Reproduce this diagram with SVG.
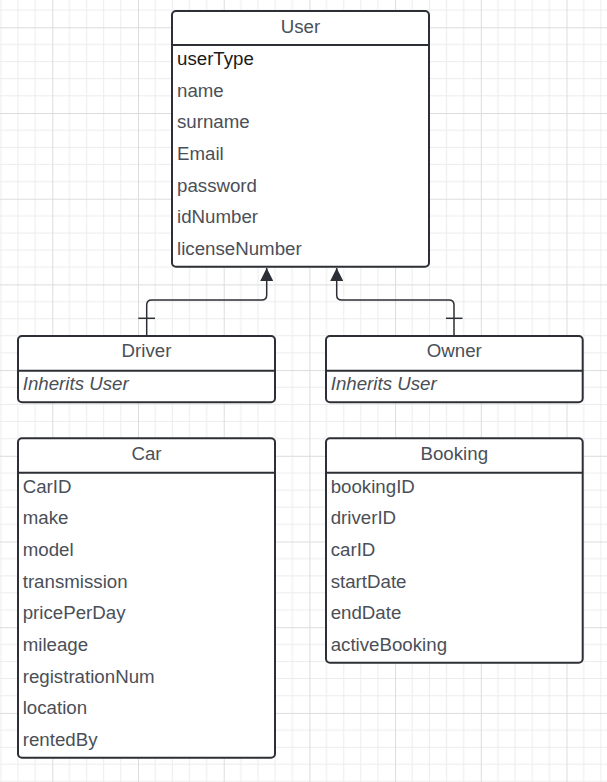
<svg xmlns="http://www.w3.org/2000/svg" width="607" height="782" viewBox="0 0 607 782">
<style>
.box{fill:#ffffff;stroke:#2c2f35;stroke-width:2}
.div{stroke:#2c2f35;stroke-width:2}
.t{font-family:"Liberation Sans",Arial,sans-serif;font-size:18.7px;fill:#4a4f58}
.h{text-anchor:middle}
.k{fill:#1a1a1a}
.i{font-style:italic}
.c{fill:none;stroke:#2c2f35;stroke-width:1.5}
.mi{stroke:#ececec;stroke-width:1}
.ma{stroke:#dcdcdc;stroke-width:1}
</style>
<defs>
<pattern id="grid" patternUnits="userSpaceOnUse" x="52.3" y="27.3" width="85.7" height="85.7">
<line class="mi" x1="17.14" y1="0" x2="17.14" y2="85.7"/>
<line class="mi" x1="34.28" y1="0" x2="34.28" y2="85.7"/>
<line class="mi" x1="51.42" y1="0" x2="51.42" y2="85.7"/>
<line class="mi" x1="68.56" y1="0" x2="68.56" y2="85.7"/>
<line class="mi" x1="0" y1="17.14" x2="85.7" y2="17.14"/>
<line class="mi" x1="0" y1="34.28" x2="85.7" y2="34.28"/>
<line class="mi" x1="0" y1="51.42" x2="85.7" y2="51.42"/>
<line class="mi" x1="0" y1="68.56" x2="85.7" y2="68.56"/>
<line class="ma" x1="0.5" y1="0" x2="0.5" y2="85.7"/>
<line class="ma" x1="0" y1="0.5" x2="85.7" y2="0.5"/>
</pattern>
<marker id="tri" markerUnits="userSpaceOnUse" markerWidth="14" markerHeight="13" refX="13" refY="6.5" orient="auto">
<path d="M0,0 L13,6.5 L0,13 Z" fill="#2c2f35"/>
</marker>
</defs>
<rect width="607" height="782" fill="#ffffff"/>
<rect width="607" height="782" fill="url(#grid)"/>

<g id="connectors">
<path class="c" d="M146.7,336 V305 Q146.7,300 151.7,300 H261.7 Q266.7,300 266.7,295 V268" marker-end="url(#tri)"/>
<line class="c" x1="138.3" y1="318.3" x2="155" y2="318.3"/>
<path class="c" d="M454,336 V305 Q454,300 449,300 H341.7 Q336.7,300 336.7,295 V268" marker-end="url(#tri)"/>
<line class="c" x1="446" y1="318.3" x2="462.5" y2="318.3"/>
</g>

<g id="user">
<rect class="box" x="172" y="11" width="257" height="255.7" rx="4"/>
<line class="div" x1="172" y1="45" x2="429" y2="45"/>
<text class="t h" x="300.5" y="32.7">User</text>
<text class="t k" x="177" y="65">userType</text>
<text class="t" x="177" y="96.7">name</text>
<text class="t" x="177" y="128.3">surname</text>
<text class="t" x="177" y="160">Email</text>
<text class="t" x="177" y="191.7">password</text>
<text class="t" x="177" y="223.3">idNumber</text>
<text class="t" x="177" y="255">licenseNumber</text>
</g>

<g id="driver">
<rect class="box" x="18" y="336" width="257" height="66.3" rx="4"/>
<line class="div" x1="18" y1="370.7" x2="275" y2="370.7"/>
<text class="t h" x="146.5" y="357.3">Driver</text>
<text class="t i" x="22.7" y="390">Inherits User</text>
</g>

<g id="owner">
<rect class="box" x="326" y="336" width="256.7" height="66.3" rx="4"/>
<line class="div" x1="326" y1="370.7" x2="582.7" y2="370.7"/>
<text class="t h" x="454.3" y="357.3">Owner</text>
<text class="t i" x="330.7" y="390">Inherits User</text>
</g>

<g id="car">
<rect class="box" x="18" y="438.3" width="257" height="319.4" rx="4"/>
<line class="div" x1="18" y1="472.7" x2="275" y2="472.7"/>
<text class="t h" x="146.5" y="460">Car</text>
<text class="t" x="22.7" y="492.7">CarID</text>
<text class="t" x="22.7" y="524.4">make</text>
<text class="t" x="22.7" y="556">model</text>
<text class="t" x="22.7" y="587.7">transmission</text>
<text class="t" x="22.7" y="619.4">pricePerDay</text>
<text class="t" x="22.7" y="651">mileage</text>
<text class="t" x="22.7" y="682.7">registrationNum</text>
<text class="t" x="22.7" y="714.4">location</text>
<text class="t" x="22.7" y="746">rentedBy</text>
</g>

<g id="booking">
<rect class="box" x="326" y="438.3" width="256.7" height="224.4" rx="4"/>
<line class="div" x1="326" y1="472.7" x2="582.7" y2="472.7"/>
<text class="t h" x="454.3" y="460">Booking</text>
<text class="t" x="330.7" y="492.7">bookingID</text>
<text class="t" x="330.7" y="524.4">driverID</text>
<text class="t" x="330.7" y="556">carID</text>
<text class="t" x="330.7" y="587.7">startDate</text>
<text class="t" x="330.7" y="619.4">endDate</text>
<text class="t" x="330.7" y="651">activeBooking</text>
</g>
</svg>
